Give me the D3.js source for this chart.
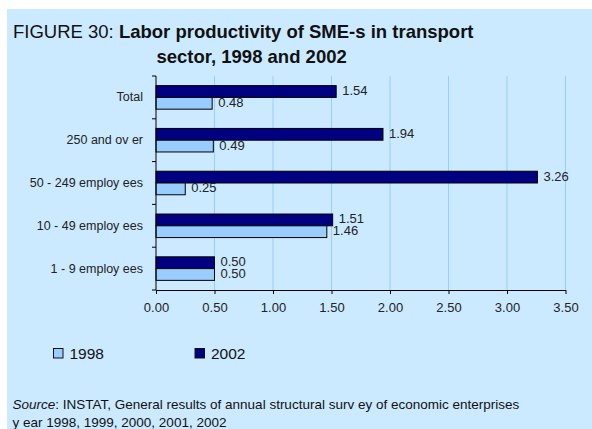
<!DOCTYPE html>
<html>
<head>
<meta charset="utf-8">
<script src="https://cdn.jsdelivr.net/npm/d3@7"></script>
<style>
  html, body { margin: 0; padding: 0; background: #ffffff; }
  svg { display: block; font-family: Arial, "Liberation Sans", sans-serif; }
</style>
</head>
<body>
<svg id="chart" width="592" height="429"></svg>
<script>
// Categories, top to bottom
const categories = ["Total", "250 and ov er", "50 - 249 employ ees", "10 - 49 employ ees", "1 - 9 employ ees"];
// Labor productivity by size class
const values2002 = [1.54, 1.94, 3.26, 1.51, 0.50];
const values1998 = [0.48, 0.49, 0.25, 1.46, 0.50];
const seriesNames = ["2002", "1998"];
const xTicks = [0, 0.5, 1.0, 1.5, 2.0, 2.5, 3.0, 3.5];

const colors = { "2002": "#000080", "1998": "#99ccff" };

const svg = d3.select("#chart");

// Panel background
svg.append("rect")
  .attr("x", 7).attr("y", 9)
  .attr("width", 585).attr("height", 420)
  .attr("fill", "#cceaff");

// Title
const title = svg.append("text")
  .attr("x", 13).attr("y", 37.5)
  .attr("font-size", 18.5)
  .attr("fill", "#111");
title.append("tspan").text("FIGURE 30: ");
title.append("tspan").attr("font-weight", "bold").text("Labor productivity of SME-s in transport");
svg.append("text")
  .attr("x", 156.5).attr("y", 63)
  .attr("font-size", 18.5)
  .attr("font-weight", "bold")
  .attr("fill", "#111")
  .text("sector, 1998 and 2002");

// Scales
const x = d3.scaleLinear().domain([0, 3.5]).range([156, 565.5]);
const y = d3.scaleBand().domain(categories).range([76, 290])
  .paddingInner(0.45).paddingOuter(0.225);
const ySub = d3.scaleBand().domain(seriesNames).range([0, y.bandwidth()]);

const rows = categories.map((c, i) => ({
  cat: c,
  vals: [
    { key: "2002", v: values2002[i] },
    { key: "1998", v: values1998[i] }
  ]
}));

// Vertical gridlines
svg.append("g")
  .selectAll("line")
  .data(xTicks.filter(t => t > 0))
  .join("line")
  .attr("x1", d => x(d)).attr("x2", d => x(d))
  .attr("y1", 76).attr("y2", 290)
  .attr("stroke", "#99ccff")
  .attr("stroke-width", 1);

// Bars
const groups = svg.append("g")
  .selectAll("g")
  .data(rows)
  .join("g")
  .attr("transform", d => `translate(0,${y(d.cat)})`);

groups.selectAll("rect")
  .data(d => d.vals)
  .join("rect")
  .attr("x", x(0))
  .attr("y", d => ySub(d.key))
  .attr("width", d => x(d.v) - x(0))
  .attr("height", ySub.bandwidth())
  .attr("fill", d => colors[d.key])
  .attr("stroke", "#000")
  .attr("stroke-width", 1);

// Value labels
groups.selectAll("text")
  .data(d => d.vals)
  .join("text")
  .attr("x", d => x(d.v) + 6)
  .attr("y", d => ySub(d.key) + ySub.bandwidth() / 2 - 1)
  .attr("dominant-baseline", "central")
  .attr("font-size", 13)
  .attr("fill", "#222")
  .text(d => d.v.toFixed(2));

// X axis
const xAxis = svg.append("g")
  .attr("transform", "translate(0,290)")
  .call(d3.axisBottom(x).tickValues(xTicks).tickFormat(d3.format(".2f")).tickSize(4).tickSizeOuter(0));
xAxis.select(".domain").attr("stroke", "#000");
xAxis.selectAll(".tick line").attr("stroke", "#000");
xAxis.selectAll(".tick text")
  .attr("font-size", 13)
  .attr("font-family", "Arial, 'Liberation Sans', sans-serif")
  .attr("fill", "#222")
  .attr("y", 21.5)
  .attr("dy", "0");

// Y axis: line with ticks at category boundaries
const step = y.step();
const boundaries = d3.range(categories.length + 1).map(i => 76 + i * step);
svg.append("line")
  .attr("x1", x(0)).attr("x2", x(0))
  .attr("y1", 76).attr("y2", 290)
  .attr("stroke", "#000");
svg.append("g")
  .selectAll("line")
  .data(boundaries)
  .join("line")
  .attr("x1", x(0) - 4).attr("x2", x(0))
  .attr("y1", d => d).attr("y2", d => d)
  .attr("stroke", "#000");

// Category labels
svg.append("g")
  .selectAll("text")
  .data(categories)
  .join("text")
  .attr("x", 143)
  .attr("y", d => y(d) + y.bandwidth() / 2)
  .attr("text-anchor", "end")
  .attr("dominant-baseline", "central")
  .attr("font-size", 12.5)
  .attr("fill", "#222")
  .text(d => d);

// Legend
const legendItems = [
  { key: "1998", x: 53.5 },
  { key: "2002", x: 195 }
];
const legend = svg.append("g")
  .selectAll("g")
  .data(legendItems)
  .join("g")
  .attr("transform", d => `translate(${d.x},348.5)`);
legend.append("rect")
  .attr("width", 9.5).attr("height", 9.5)
  .attr("fill", d => colors[d.key])
  .attr("stroke", "#111");
legend.append("text")
  .attr("x", 16)
  .attr("y", 10.5)
  .attr("font-size", 15.5)
  .attr("fill", "#111")
  .text(d => d.key);

// Source note
const src = svg.append("text")
  .attr("x", 12.5).attr("y", 409)
  .attr("font-size", 13.5)
  .attr("fill", "#111");
src.append("tspan").attr("font-style", "italic").text("Source");
src.append("tspan").text(": INSTAT, General results of annual structural surv ey of economic enterprises");
svg.append("text")
  .attr("x", 12.5).attr("y", 426.5)
  .attr("font-size", 13.5)
  .attr("fill", "#111")
  .text("y ear 1998, 1999, 2000, 2001, 2002");
</script>
</body>
</html>
